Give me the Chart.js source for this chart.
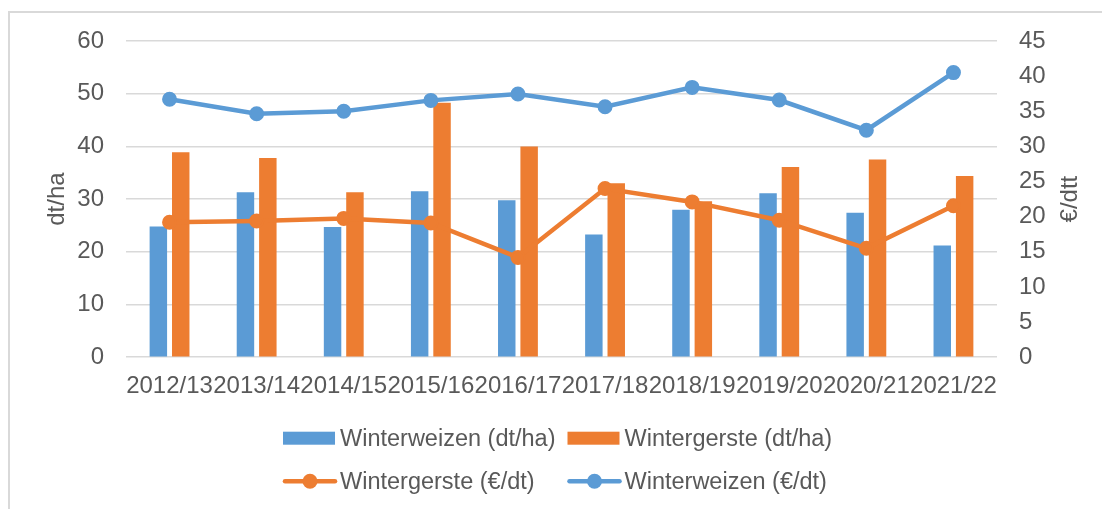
<!DOCTYPE html>
<html><head><meta charset="utf-8">
<script src="https://cdn.jsdelivr.net/npm/chart.js@4/dist/chart.umd.min.js"></script>
<style>html,body{margin:0;padding:0;background:#fff;overflow:hidden}</style>
</head><body>
<canvas id="c" width="1102" height="509" style="display:block;width:1102px;height:509px"></canvas>
<script>
// ---- data ----
const categories = ["2012/13","2013/14","2014/15","2015/16","2016/17","2017/18","2018/19","2019/20","2020/21","2021/22"];
const weizenYield = [24.8, 31.3, 24.7, 31.5, 29.8, 23.3, 28.0, 31.1, 27.4, 21.2];
const gersteYield = [38.9, 37.8, 31.3, 48.3, 40.0, 33.0, 29.6, 36.1, 37.5, 34.4];
const gerstePrice = [19.2, 19.4, 19.75, 19.1, 14.2, 24.0, 22.1, 19.5, 15.5, 21.55];
const weizenPrice = [36.7, 34.65, 35.0, 36.55, 37.45, 35.65, 38.4, 36.6, 32.3, 40.5];
const seriesNames = ["Winterweizen (dt/ha)", "Wintergerste (dt/ha)", "Wintergerste (€/dt)", "Winterweizen (€/dt)"];
const leftAxisTitle = "dt/ha";
const rightAxisTitle = "€/dtt";
const leftTicks = [0, 10, 20, 30, 40, 50, 60];
const rightTicks = [0, 5, 10, 15, 20, 25, 30, 35, 40, 45];

const BLUE = "#5B9BD5", ORANGE = "#ED7D31", TXT = "#595959", GRID = "#D9D9D9";
const FONT = "'Liberation Sans', Arial, sans-serif";

const borderPlugin = {
  id: "frame",
  beforeDraw(chart) {
    const ctx = chart.ctx;
    ctx.save();
    ctx.fillStyle = "#fff";
    ctx.fillRect(0, 0, chart.width, chart.height);
    ctx.strokeStyle = "#D9D9D9";
    ctx.lineWidth = 2;
    ctx.beginPath();
    ctx.moveTo(9, chart.height);
    ctx.lineTo(9, 12);
    ctx.lineTo(chart.width, 12);
    ctx.stroke();
    ctx.restore();
  }
};

// right axis title drawn reading upwards (like the left one)
const rightTitlePlugin = {
  id: "rightTitle",
  afterDraw(chart) {
    const s = chart.scales.y1;
    const ca = chart.chartArea;
    const ctx = chart.ctx;
    ctx.save();
    ctx.font = "24px " + FONT;
    ctx.fillStyle = TXT;
    ctx.textAlign = "center";
    ctx.textBaseline = "middle";
    ctx.translate(s.right - 14.4, (ca.top + ca.bottom) / 2);
    ctx.rotate(-Math.PI / 2);
    ctx.fillText(rightAxisTitle, 0, 0);
    ctx.restore();
  }
};

const legendPlugin = {
  id: "gridLegend",
  afterDraw(chart) {
    const ctx = chart.ctx;
    const ca = chart.chartArea;
    const fontSize = 23.5;
    ctx.save();
    ctx.font = fontSize + "px " + FONT;
    const sym = 52, gap = 5, colGap = 12;
    const ds = chart.data.datasets;
    const widths = ds.map(d => sym + gap + ctx.measureText(d.label).width);
    const maxW = Math.max(...widths);
    const colW = maxW + colGap;
    const total = colW + maxW;
    const x0 = (ca.left + ca.right) / 2 - total / 2;
    const rows = [ca.bottom + 81, ca.bottom + 124];
    ds.forEach((d, i) => {
      const col = i % 2, row = Math.floor(i / 2);
      const x = x0 + col * colW;
      const y = rows[row];
      if (d.type === "bar") {
        ctx.fillStyle = d.backgroundColor;
        ctx.fillRect(x, y - 6.5, sym, 13);
      } else {
        ctx.strokeStyle = d.borderColor;
        ctx.lineWidth = 4.5;
        ctx.lineCap = "round";
        ctx.beginPath();
        ctx.moveTo(x + 2, y);
        ctx.lineTo(x + sym, y);
        ctx.stroke();
        ctx.fillStyle = d.borderColor;
        ctx.beginPath();
        ctx.arc(x + sym / 2 + 1, y, 7.5, 0, Math.PI * 2);
        ctx.fill();
      }
      ctx.fillStyle = TXT;
      ctx.textBaseline = "middle";
      ctx.textAlign = "left";
      ctx.fillText(d.label, x + sym + gap, y + 1);
    });
    ctx.restore();
  }
};

new Chart(document.getElementById("c"), {
  data: {
    labels: categories,
    datasets: [
      { type: "bar", label: seriesNames[0], data: weizenYield, backgroundColor: BLUE, yAxisID: "y", order: 2,
        categoryPercentage: 0.514, barPercentage: 0.78 },
      { type: "bar", label: seriesNames[1], data: gersteYield, backgroundColor: ORANGE, yAxisID: "y", order: 2,
        categoryPercentage: 0.514, barPercentage: 0.78 },
      { type: "line", label: seriesNames[2], data: gerstePrice, borderColor: ORANGE, backgroundColor: ORANGE,
        borderWidth: 4.5, pointRadius: 6.5, pointBorderWidth: 2, pointBackgroundColor: ORANGE, pointBorderColor: ORANGE,
        yAxisID: "y1", order: 1, tension: 0 },
      { type: "line", label: seriesNames[3], data: weizenPrice, borderColor: BLUE, backgroundColor: BLUE,
        borderWidth: 4.5, pointRadius: 6.5, pointBorderWidth: 2, pointBackgroundColor: BLUE, pointBorderColor: BLUE,
        yAxisID: "y1", order: 0, tension: 0 }
    ]
  },
  options: {
    responsive: false,
    animation: false,
    devicePixelRatio: 1,
    layout: { padding: { left: 42.5, right: 17.5, top: 41, bottom: 94 } },
    plugins: { legend: { display: false }, tooltip: { enabled: false } },
    scales: {
      x: {
        offset: true,
        grid: { display: false, drawTicks: false },
        border: { display: false },
        ticks: { color: TXT, font: { family: FONT, size: 24 }, padding: 14.5, autoSkip: false, maxRotation: 0, minRotation: 0 }
      },
      y: {
        position: "left",
        min: leftTicks[0], max: leftTicks[leftTicks.length - 1],
        afterBuildTicks: (s) => { s.ticks = leftTicks.map(v => ({ value: v })); },
        grid: { color: GRID, lineWidth: 1.5, drawTicks: true, tickLength: 19, tickColor: "transparent" },
        border: { display: false },
        ticks: { color: TXT, font: { family: FONT, size: 24 }, padding: 3 },
        title: { display: true, text: leftAxisTitle, color: TXT, font: { family: FONT, size: 24 }, padding: { top: 0, bottom: 3 } }
      },
      y1: {
        position: "right",
        min: rightTicks[0], max: rightTicks[rightTicks.length - 1],
        afterBuildTicks: (s) => { s.ticks = rightTicks.map(v => ({ value: v })); },
        grid: { drawOnChartArea: false, drawTicks: true, tickLength: 19, tickColor: "transparent" },
        border: { display: false },
        ticks: { color: TXT, font: { family: FONT, size: 24 }, padding: 3 },
        title: { display: true, text: rightAxisTitle, color: "transparent", font: { family: FONT, size: 24 }, padding: { top: 0, bottom: 7 } }
      }
    }
  },
  plugins: [borderPlugin, rightTitlePlugin, legendPlugin]
});
</script>
</body></html>
